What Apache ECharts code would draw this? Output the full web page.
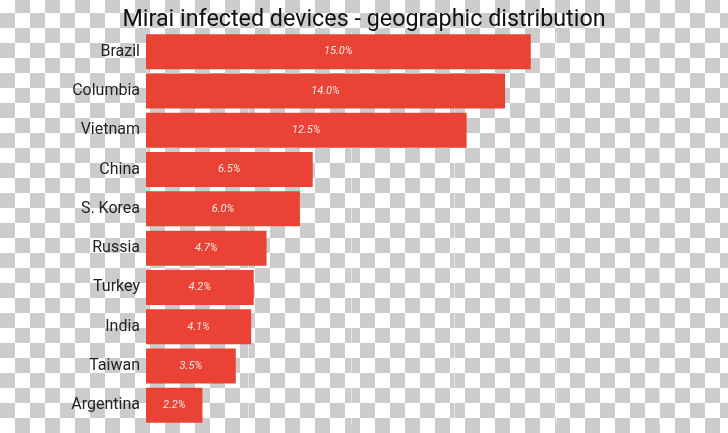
<!DOCTYPE html>
<html>
<head>
<meta charset="utf-8">
<script src="https://cdn.jsdelivr.net/npm/echarts@6/dist/echarts.min.js"></script>
<style>
html,body{margin:0;padding:0;}
body{width:728px;height:433px;overflow:hidden;
background:repeating-conic-gradient(#cccccc 0 25%, #ffffff 0 50%) 0 -2px / 30px 30px;}
#chart{width:728px;height:433px;}
</style>
</head>
<body>
<div id="chart"></div>
<script>
const titleText = 'Mirai infected devices - geographic distribution';
const categories = ['Brazil','Columbia','Vietnam','China','S. Korea','Russia','Turkey','India','Taiwan','Argentina'];
const values = [15.0, 14.0, 12.5, 6.5, 6.0, 4.7, 4.2, 4.1, 3.5, 2.2];

const chart = echarts.init(document.getElementById('chart'), null, {renderer:'canvas'});
chart.setOption({
  backgroundColor: 'transparent',
  animation: false,
  title: {
    text: titleText,
    left: 'center',
    top: 4,
    textStyle: {fontFamily: 'Roboto', fontSize: 23.3, fontWeight: 'normal', color: '#111'}
  },
  grid: {left: 146, right: 69, top: 32, bottom: 8, containLabel: false},
  xAxis: {
    type: 'value', min: 0, max: 20, interval: 4,
    axisLabel: {show: false}, axisLine: {show: false}, axisTick: {show: false},
    splitLine: {show: true, lineStyle: {color: 'rgba(255,255,255,0.5)', width: 1}}
  },
  yAxis: {
    type: 'category', data: categories, inverse: true,
    axisLine: {show: false}, axisTick: {show: false},
    axisLabel: {fontFamily: 'Roboto', fontSize: 16, color: '#222', margin: 6}
  },
  series: [{
    type: 'bar',
    data: values,
    barCategoryGap: '11%',
    itemStyle: {color: '#ea4335'},
    label: {
      show: true, position: 'inside',
      fontFamily: 'Roboto', fontStyle: 'italic', fontSize: 11, color: '#fde8e6',
      formatter: p => p.value.toFixed(1) + '%'
    }
  }]
});
</script>
</body>
</html>
